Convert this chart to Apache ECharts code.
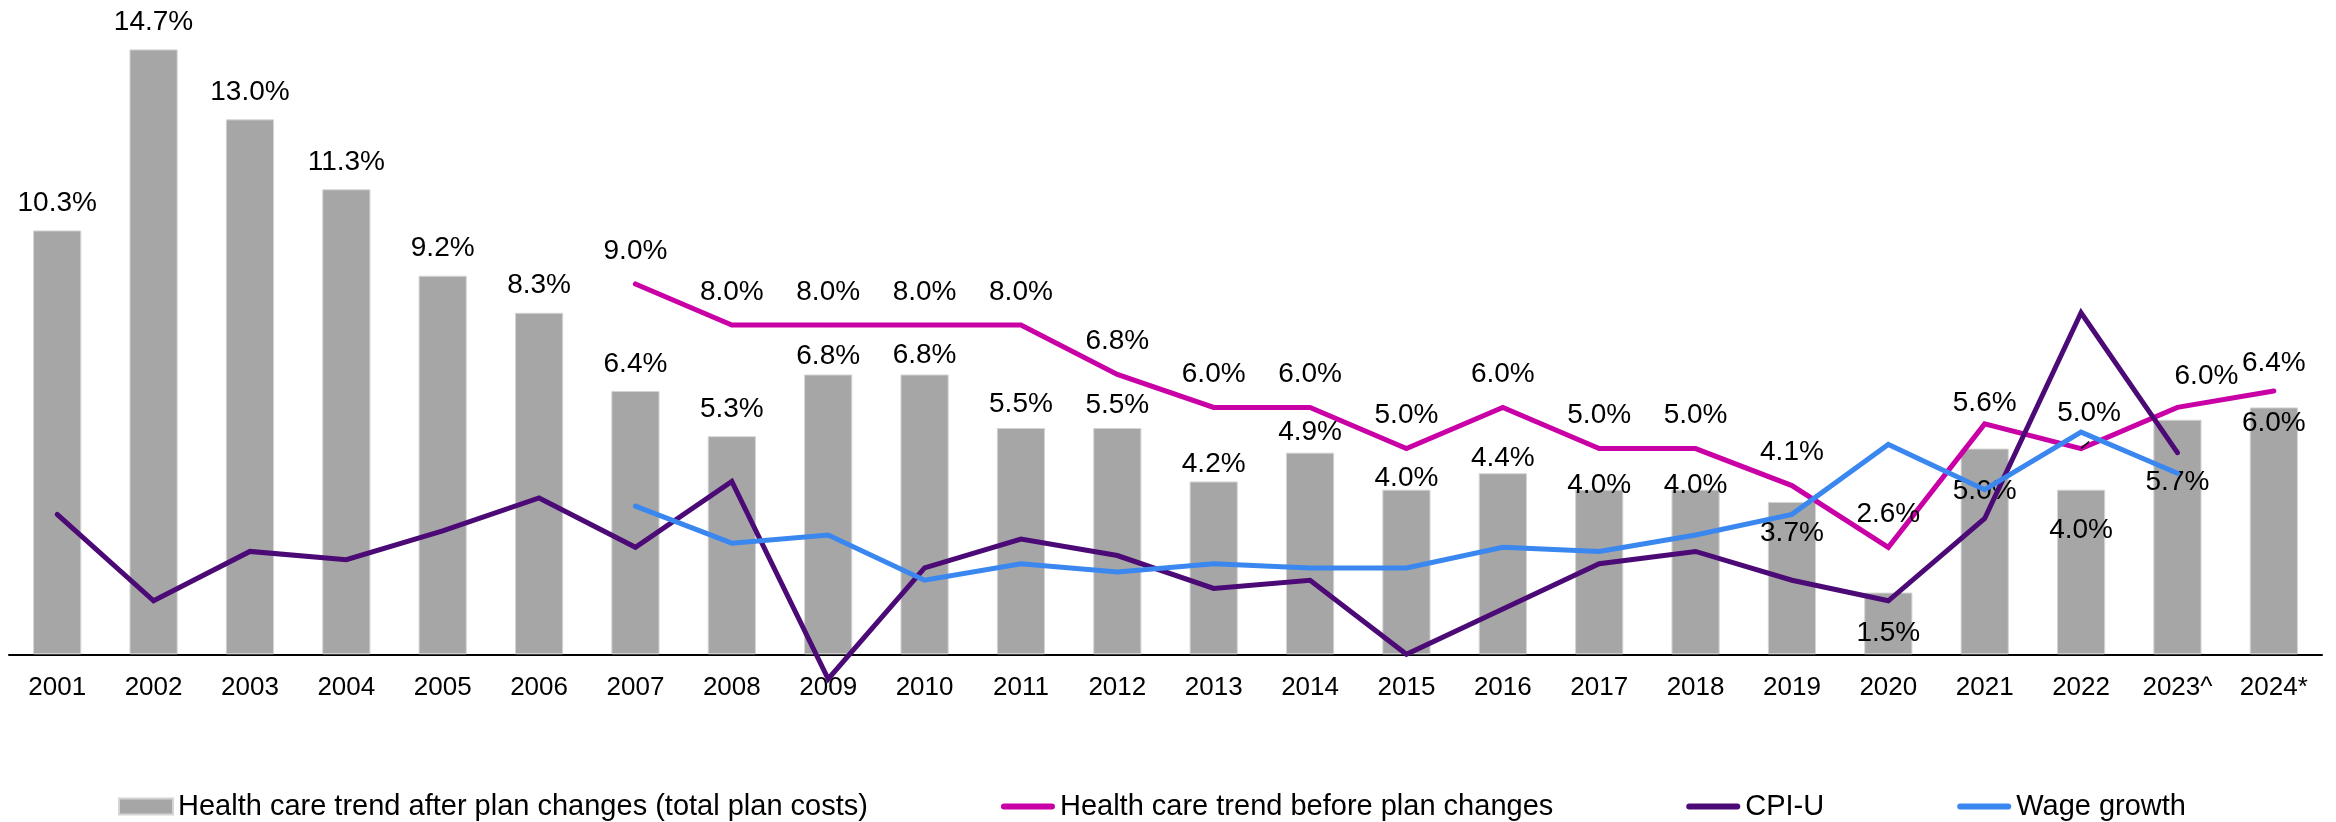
<!DOCTYPE html>
<html>
<head>
<meta charset="utf-8">
<script src="https://cdn.jsdelivr.net/npm/echarts@6/dist/echarts.min.js"></script>
<style>
  html, body { margin: 0; padding: 0; background: #ffffff; }
  #chart { width: 2336px; height: 822px; }
</style>
</head>
<body>
<div id="chart"></div>
<script>
// Years on the category axis
const categories = ['2001', '2002', '2003', '2004', '2005', '2006', '2007', '2008', '2009', '2010',
  '2011', '2012', '2013', '2014', '2015', '2016', '2017', '2018', '2019', '2020',
  '2021', '2022', '2023^', '2024*'];

// Health care trend after plan changes (total plan costs), %
const trendAfter = [10.3, 14.7, 13.0, 11.3, 9.2, 8.3, 6.4, 5.3, 6.8, 6.8,
  5.5, 5.5, 4.2, 4.9, 4.0, 4.4, 4.0, 4.0, 3.7, 1.5,
  5.0, 4.0, 5.7, 6.0];

// Health care trend before plan changes, %
const trendBefore = [null, null, null, null, null, null, 9.0, 8.0, 8.0, 8.0,
  8.0, 6.8, 6.0, 6.0, 5.0, 6.0, 5.0, 5.0, 4.1, 2.6,
  5.6, 5.0, 6.0, 6.4];

// CPI-U, %
const cpiU = [3.4, 1.3, 2.5, 2.3, 3.0, 3.8, 2.6, 4.2, -0.6, 2.1,
  2.8, 2.4, 1.6, 1.8, 0.0, 1.1, 2.2, 2.5, 1.8, 1.3,
  3.3, 8.3, 4.9, null];

// Wage growth, %
const wageGrowth = [null, null, null, null, null, null, 3.6, 2.7, 2.9, 1.8,
  2.2, 2.0, 2.2, 2.1, 2.1, 2.6, 2.5, 2.9, 3.4, 5.1,
  4.0, 5.4, 4.4, null];

const seriesNames = [
  'Health care trend after plan changes (total plan costs)',
  'Health care trend before plan changes',
  'CPI-U',
  'Wage growth'
];

// Vertical nudges (px) for the bar value labels, relative to the default "top" spot
const barLabelNudge = [0, 0, 0, 0, 0, 0, 0, 0, 9, 8,
  3, 4, 10, 7, 16, 12, 23, 23, 58, 68,
  70, 68, 90, 43];
// [dx, dy] nudges for a few labels on the "before plan changes" line (keyed by position, 1-based)
const beforeLabelNudge = { 21: [0, 12], 22: [8, -2], 23: [29, 2], 24: [0, 5] };
// the 2022 label on that line gets a short leader line back to its point
const beforeLeaderAt = 22;

const FONT = '"Liberation Sans", Arial, Helvetica, sans-serif';
const pct = v => v.toFixed(1) + '%';
const lineIcon = 'path://M3,0 H51 A3,3 0 0 1 51,6 H3 A3,3 0 0 1 3,0 Z';

const barData = trendAfter.map((v, i) => ({
  value: v,
  label: { offset: [0, barLabelNudge[i]] }
}));

const beforeData = trendBefore.map((v, i) => {
  const n = beforeLabelNudge[i + 1];
  if (!n) return v;
  const item = { value: v, label: { offset: n } };
  if (i + 1 === beforeLeaderAt) {
    item.labelLine = { show: true, length2: 0, lineStyle: { color: '#000000', width: 1.5 } };
  }
  return item;
});

const chart = echarts.init(document.getElementById('chart'), null, { renderer: 'canvas' });

chart.setOption({
  backgroundColor: '#ffffff',
  animation: false,
  textStyle: { fontFamily: FONT },
  grid: { left: 9, right: 14, top: 37.05, bottom: 167.7, containLabel: false },
  legend: {
    left: 118,
    top: 792,
    padding: 0,
    itemGap: 133,
    itemWidth: 54,
    itemHeight: 16,
    textStyle: { fontFamily: FONT, fontSize: 29, color: '#000000' },
    data: [
      { name: seriesNames[0], icon: 'rect' },
      { name: seriesNames[1], icon: lineIcon },
      { name: seriesNames[2], icon: lineIcon },
      { name: seriesNames[3], icon: lineIcon }
    ]
  },
  xAxis: {
    type: 'category',
    data: categories,
    boundaryGap: true,
    axisLine: { lineStyle: { color: '#000000', width: 2 } },
    axisTick: { show: false },
    axisLabel: { color: '#000000', fontFamily: FONT, fontSize: 26, margin: 21, interval: 0 },
    splitLine: { show: false }
  },
  yAxis: {
    type: 'value',
    min: 0,
    max: 15,
    show: false,
    splitLine: { show: false }
  },
  series: [
    {
      name: seriesNames[0],
      type: 'bar',
      data: barData,
      barWidth: '50%',
      itemStyle: { color: '#A6A6A6', borderColor: '#D4D4D4', borderWidth: 1 },
      label: {
        show: true,
        position: 'top',
        distance: 13,
        color: '#000000',
        fontFamily: FONT,
        fontSize: 28,
        formatter: p => pct(p.value)
      },
      z: 1
    },
    {
      name: seriesNames[1],
      type: 'line',
      data: beforeData,
      clip: false,
      symbol: 'circle',
      symbolSize: 0.1,
      showSymbol: true,
      itemStyle: { color: '#C800A6' },
      lineStyle: { color: '#C800A6', width: 5, cap: 'round', join: 'miter' },
      label: {
        show: true,
        position: 'top',
        distance: 19,
        color: '#000000',
        fontFamily: FONT,
        fontSize: 28,
        formatter: p => (p.value == null ? '' : pct(p.value))
      },
      z: 3
    },
    {
      name: seriesNames[2],
      type: 'line',
      data: cpiU,
      clip: false,
      symbol: 'none',
      itemStyle: { color: '#4B0A75' },
      lineStyle: { color: '#4B0A75', width: 5, cap: 'round', join: 'miter' },
      z: 4
    },
    {
      name: seriesNames[3],
      type: 'line',
      data: wageGrowth,
      clip: false,
      symbol: 'none',
      itemStyle: { color: '#3A87F0' },
      lineStyle: { color: '#3A87F0', width: 5, cap: 'round', join: 'miter' },
      z: 5
    }
  ]
});
</script>
</body>
</html>
